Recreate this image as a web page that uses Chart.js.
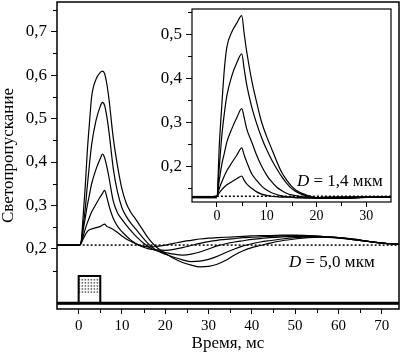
<!DOCTYPE html>
<html>
<head>
<meta charset="utf-8">
<script src="https://cdn.jsdelivr.net/npm/chart.js@4.4.1/dist/chart.umd.min.js"></script>
<style>
  html, body { margin: 0; padding: 0; background: #fff; }
  #wrap { position: relative; width: 400px; height: 352px; overflow: hidden; }
  #main { position: absolute; left: 0; top: 0; }
  #inset { position: absolute; left: 158px; top: 0; }
  .lbl { position: absolute; font-family: 'Liberation Serif', 'Times New Roman', serif; font-size: 17px; line-height: 20px; color: #000; white-space: nowrap; }
  .lbl i { font-style: italic; }
</style>
</head>
<body>
<div id="wrap">
  <canvas id="main" width="400" height="352"></canvas>
  <canvas id="inset" width="236" height="228"></canvas>
  <div class="lbl" style="left:297px; top:171px;"><i>D</i> = 1,4 мкм</div>
  <div class="lbl" style="left:289px; top:252px;"><i>D</i> = 5,0 мкм</div>
</div>
<script>
// ---------- Main chart data (D = 5,0 мкм) ----------
const mainTime = [-5, 0, 0.5, 1, 1.5, 2, 2.5, 3, 4, 5, 5.5, 6, 6.5, 7, 8, 9, 10, 11, 12, 13, 14, 15, 16, 17, 18, 20, 22, 24, 26, 28, 30, 32, 34, 36, 38, 40, 42, 44, 47, 50, 53, 56, 60, 64, 68, 72, 74];
const mainCurve1 = [0.209, 0.209, 0.212, 0.27, 0.34, 0.425, 0.49, 0.55, 0.59, 0.606, 0.609, 0.603, 0.58, 0.545, 0.455, 0.39, 0.338, 0.305, 0.285, 0.271, 0.256, 0.241, 0.226, 0.214, 0.204, 0.19, 0.178, 0.169, 0.163, 0.159, 0.16, 0.165, 0.174, 0.186, 0.196, 0.203, 0.208, 0.213, 0.219, 0.223, 0.226, 0.227, 0.226, 0.222, 0.216, 0.212, 0.211];
const mainCurve2 = [0.209, 0.209, 0.212, 0.25, 0.29, 0.345, 0.395, 0.44, 0.495, 0.528, 0.537, 0.53, 0.505, 0.47, 0.385, 0.33, 0.295, 0.275, 0.26, 0.248, 0.236, 0.224, 0.213, 0.204, 0.197, 0.188, 0.181, 0.175, 0.171, 0.172, 0.176, 0.183, 0.192, 0.2, 0.207, 0.212, 0.216, 0.219, 0.223, 0.226, 0.228, 0.228, 0.226, 0.222, 0.216, 0.212, 0.211];
const mainCurve3 = [0.209, 0.209, 0.212, 0.24, 0.27, 0.3, 0.325, 0.35, 0.383, 0.408, 0.418, 0.41, 0.39, 0.365, 0.31, 0.283, 0.268, 0.255, 0.243, 0.232, 0.222, 0.213, 0.206, 0.2, 0.196, 0.192, 0.188, 0.186, 0.188, 0.193, 0.2, 0.207, 0.212, 0.216, 0.219, 0.222, 0.224, 0.226, 0.228, 0.229, 0.229, 0.228, 0.225, 0.221, 0.216, 0.212, 0.211];
const mainCurve4 = [0.209, 0.209, 0.212, 0.228, 0.245, 0.26, 0.273, 0.285, 0.303, 0.32, 0.328, 0.335, 0.32, 0.3, 0.27, 0.252, 0.24, 0.23, 0.221, 0.214, 0.208, 0.204, 0.201, 0.199, 0.198, 0.197, 0.199, 0.203, 0.208, 0.213, 0.217, 0.22, 0.222, 0.224, 0.226, 0.227, 0.228, 0.229, 0.23, 0.231, 0.231, 0.229, 0.226, 0.221, 0.216, 0.212, 0.211];
const mainCurve5 = [0.209, 0.209, 0.212, 0.222, 0.232, 0.24, 0.244, 0.246, 0.249, 0.252, 0.255, 0.257, 0.252, 0.25, 0.245, 0.238, 0.23, 0.223, 0.218, 0.213, 0.209, 0.206, 0.205, 0.205, 0.206, 0.209, 0.213, 0.217, 0.22, 0.223, 0.225, 0.226, 0.227, 0.228, 0.229, 0.23, 0.231, 0.231, 0.232, 0.232, 0.231, 0.229, 0.226, 0.221, 0.216, 0.212, 0.211];
const mainBaseline = 0.209;
const mainDottedTime = [0, 74];

// pulse marker (drawn in main chart below 0.2)
const pulseTime = [-5, 0, 0, 5, 5, 74];
const pulseValue = [0.075, 0.075, 0.138, 0.138, 0.075, 0.075];
const pulseLevelTime = [0, 5];
const pulseLevels = [0.129, 0.122, 0.115, 0.108, 0.101];

const mainXTicks = [0, 10, 20, 30, 40, 50, 60, 70];
const mainXMinor = [5, 15, 25, 35, 45, 55, 65];
const mainYTicks = [0.2, 0.3, 0.4, 0.5, 0.6, 0.7];
const mainYMinor = [0.15, 0.25, 0.35, 0.45, 0.55, 0.65, 0.75];

// ---------- Inset data (D = 1,4 мкм) ----------
const insetTime = [-5, 0, 0.5, 1, 1.5, 2, 3, 4, 5, 5.5, 6, 7, 8, 9, 10, 11, 12, 13, 14, 15, 16, 18, 20, 22, 25, 28, 31, 35];
const insetCurve1 = [0.13, 0.132, 0.25, 0.34, 0.42, 0.47, 0.505, 0.525, 0.542, 0.5, 0.46, 0.395, 0.345, 0.3, 0.268, 0.24, 0.212, 0.187, 0.169, 0.155, 0.145, 0.135, 0.129, 0.127, 0.127, 0.128, 0.13, 0.13];
const insetCurve2 = [0.13, 0.132, 0.2, 0.27, 0.32, 0.36, 0.405, 0.435, 0.455, 0.42, 0.385, 0.335, 0.297, 0.265, 0.238, 0.215, 0.195, 0.177, 0.162, 0.15, 0.142, 0.133, 0.128, 0.127, 0.128, 0.129, 0.13, 0.13];
const insetCurve3 = [0.13, 0.132, 0.17, 0.205, 0.23, 0.255, 0.285, 0.31, 0.331, 0.31, 0.285, 0.255, 0.225, 0.2, 0.18, 0.165, 0.153, 0.145, 0.139, 0.135, 0.133, 0.13, 0.128, 0.128, 0.129, 0.13, 0.13, 0.13];
const insetCurve4 = [0.13, 0.132, 0.15, 0.165, 0.178, 0.19, 0.208, 0.225, 0.242, 0.225, 0.21, 0.183, 0.168, 0.155, 0.146, 0.14, 0.136, 0.133, 0.131, 0.13, 0.129, 0.128, 0.128, 0.129, 0.13, 0.13, 0.13, 0.13];
const insetCurve5 = [0.13, 0.132, 0.14, 0.147, 0.153, 0.158, 0.165, 0.172, 0.178, 0.168, 0.16, 0.15, 0.142, 0.137, 0.134, 0.132, 0.131, 0.13, 0.13, 0.13, 0.129, 0.129, 0.129, 0.13, 0.13, 0.13, 0.13, 0.13];
const insetBaseline = 0.132;
const insetDottedTime = [0, 35];

const insetXTicks = [0, 10, 20, 30];
const insetXMinor = [5, 15, 25];
const insetYTicks = [0.2, 0.3, 0.4, 0.5];
const insetYMinor = [0.15, 0.25, 0.35, 0.45, 0.55];

// ---------- helpers ----------
const FONT = "'Liberation Serif', 'Times New Roman', serif";
Chart.defaults.font.family = FONT;
Chart.defaults.color = '#000';

const pts = (xs, ys) => xs.map((x, i) => ({ x: x, y: ys[i] }));
const curve = (xs, ys) => ({
  data: pts(xs, ys), borderColor: '#000', borderWidth: 1.2, pointRadius: 0,
  cubicInterpolationMode: 'monotone', fill: false
});
const fmt = v => v.toFixed(1).replace('.', ',');

const framePlugin = {
  id: 'frame',
  afterDraw(chart, args, opts) {
    const { ctx, chartArea: a } = chart;
    ctx.save();
    ctx.strokeStyle = '#000';
    ctx.lineWidth = 1;
    const xs = chart.scales.x, ys = chart.scales.y;
    (opts.xMinor || []).forEach(v => {
      const p = Math.round(xs.getPixelForValue(v)) + 0.5;
      ctx.beginPath(); ctx.moveTo(p, a.bottom); ctx.lineTo(p, a.bottom + opts.minorLen); ctx.stroke();
    });
    (opts.yMinor || []).forEach(v => {
      const p = Math.round(ys.getPixelForValue(v)) + 0.5;
      if (p < a.top || p > a.bottom) return;
      ctx.beginPath(); ctx.moveTo(a.left, p); ctx.lineTo(a.left - opts.minorLen, p); ctx.stroke();
    });
    ctx.lineWidth = opts.width;
    ctx.strokeRect(a.left, a.top, a.right - a.left, a.bottom - a.top);
    ctx.restore();
  },
  beforeDatasetsDraw(chart, args, opts) {
    if (!opts.fill) return;
    const { ctx, chartArea: a } = chart;
    ctx.save(); ctx.fillStyle = '#fff';
    ctx.fillRect(a.left, a.top, a.right - a.left, a.bottom - a.top);
    ctx.restore();
  }
};

function axisX(min, max, ticks, fontSize, height, pad, titleText) {
  return {
    type: 'linear', min: min, max: max,
    afterBuildTicks: s => { s.ticks = ticks.map(v => ({ value: v })); },
    afterFit: s => { s.height = height; s.paddingLeft = 0; s.paddingRight = 0; },
    ticks: { font: { size: fontSize }, padding: pad, maxRotation: 0, autoSkip: false, callback: v => String(v) },
    grid: { display: true, drawOnChartArea: false, drawTicks: true, tickLength: 5, tickColor: '#000', tickWidth: 1 },
    border: { display: false },
    title: titleText ? { display: true, text: titleText, font: { size: 17, lineHeight: 1 }, padding: { top: 0, bottom: 0 } } : { display: false }
  };
}
function axisY(min, max, ticks, fontSize, width, titleText) {
  return {
    type: 'linear', min: min, max: max,
    afterBuildTicks: s => { s.ticks = ticks.map(v => ({ value: v })); },
    afterFit: s => { s.width = width; s.paddingTop = 0; s.paddingBottom = 0; },
    ticks: { font: { size: fontSize }, padding: 4, autoSkip: false, callback: v => fmt(v) },
    grid: { display: true, drawOnChartArea: false, drawTicks: true, tickLength: 6, tickColor: '#000', tickWidth: 1 },
    border: { display: false },
    title: titleText ? { display: true, text: titleText, font: { size: 17, lineHeight: 1 }, padding: { top: 0, bottom: 0 } } : { display: false }
  };
}

// ---------- main chart ----------
const mainDatasets = [
  curve(mainTime, mainCurve1), curve(mainTime, mainCurve2), curve(mainTime, mainCurve3),
  curve(mainTime, mainCurve4), curve(mainTime, mainCurve5),
  { data: pts(mainDottedTime, mainDottedTime.map(() => mainBaseline)), borderColor: '#000', borderWidth: 1.5, borderDash: [2, 2], pointRadius: 0 },
  { data: pts(pulseTime, pulseValue), borderColor: '#000', borderWidth: 2, pointRadius: 0, tension: 0 },
  { data: pts([pulseTime[0], pulseTime[pulseTime.length - 1]], [pulseValue[0], pulseValue[0]]), borderColor: '#000', borderWidth: 3, pointRadius: 0 }
].concat(pulseLevels.map(l => ({
  data: pts(pulseLevelTime, pulseLevelTime.map(() => l)), borderColor: '#000', borderWidth: 1, borderDash: [1.5, 1.5], pointRadius: 0
})));

new Chart(document.getElementById('main'), {
  type: 'line',
  data: { datasets: mainDatasets },
  options: {
    responsive: false, animation: false, devicePixelRatio: 1,
    layout: { padding: { top: 2, right: 1, left: 0, bottom: 0 } },
    plugins: { legend: { display: false }, tooltip: { enabled: false },
      frame: { width: 1.5, minorLen: 4, xMinor: mainXMinor, yMinor: mainYMinor } },
    scales: {
      x: axisX(-5, 74, mainXTicks, 15, 43, 3, 'Время, мс'),
      y: axisY(0.062, 0.768, mainYTicks, 17, 57, 'Светопропускание')
    }
  },
  plugins: [framePlugin]
});

// ---------- inset chart ----------
const insetDatasets = [
  curve(insetTime, insetCurve1), curve(insetTime, insetCurve2), curve(insetTime, insetCurve3),
  curve(insetTime, insetCurve4), curve(insetTime, insetCurve5),
  { data: pts(insetDottedTime, insetDottedTime.map(() => insetBaseline)), borderColor: '#000', borderWidth: 1.5, borderDash: [2, 2], pointRadius: 0 },
  { data: pts([-5, 0], [0.13, 0.13]), borderColor: '#000', borderWidth: 2.5, pointRadius: 0 }
];

new Chart(document.getElementById('inset'), {
  type: 'line',
  data: { datasets: insetDatasets },
  options: {
    responsive: false, animation: false, devicePixelRatio: 1,
    layout: { padding: { top: 9, right: 3, left: 0, bottom: 0 } },
    plugins: { legend: { display: false }, tooltip: { enabled: false },
      frame: { width: 1.2, minorLen: 4, fill: true, xMinor: insetXMinor, yMinor: insetYMinor } },
    scales: {
      x: axisX(-5, 35, insetXTicks, 14, 26, 1, null),
      y: axisY(0.119, 0.557, insetYTicks, 17, 34, null)
    }
  },
  plugins: [framePlugin]
});
</script>
</body>
</html>
